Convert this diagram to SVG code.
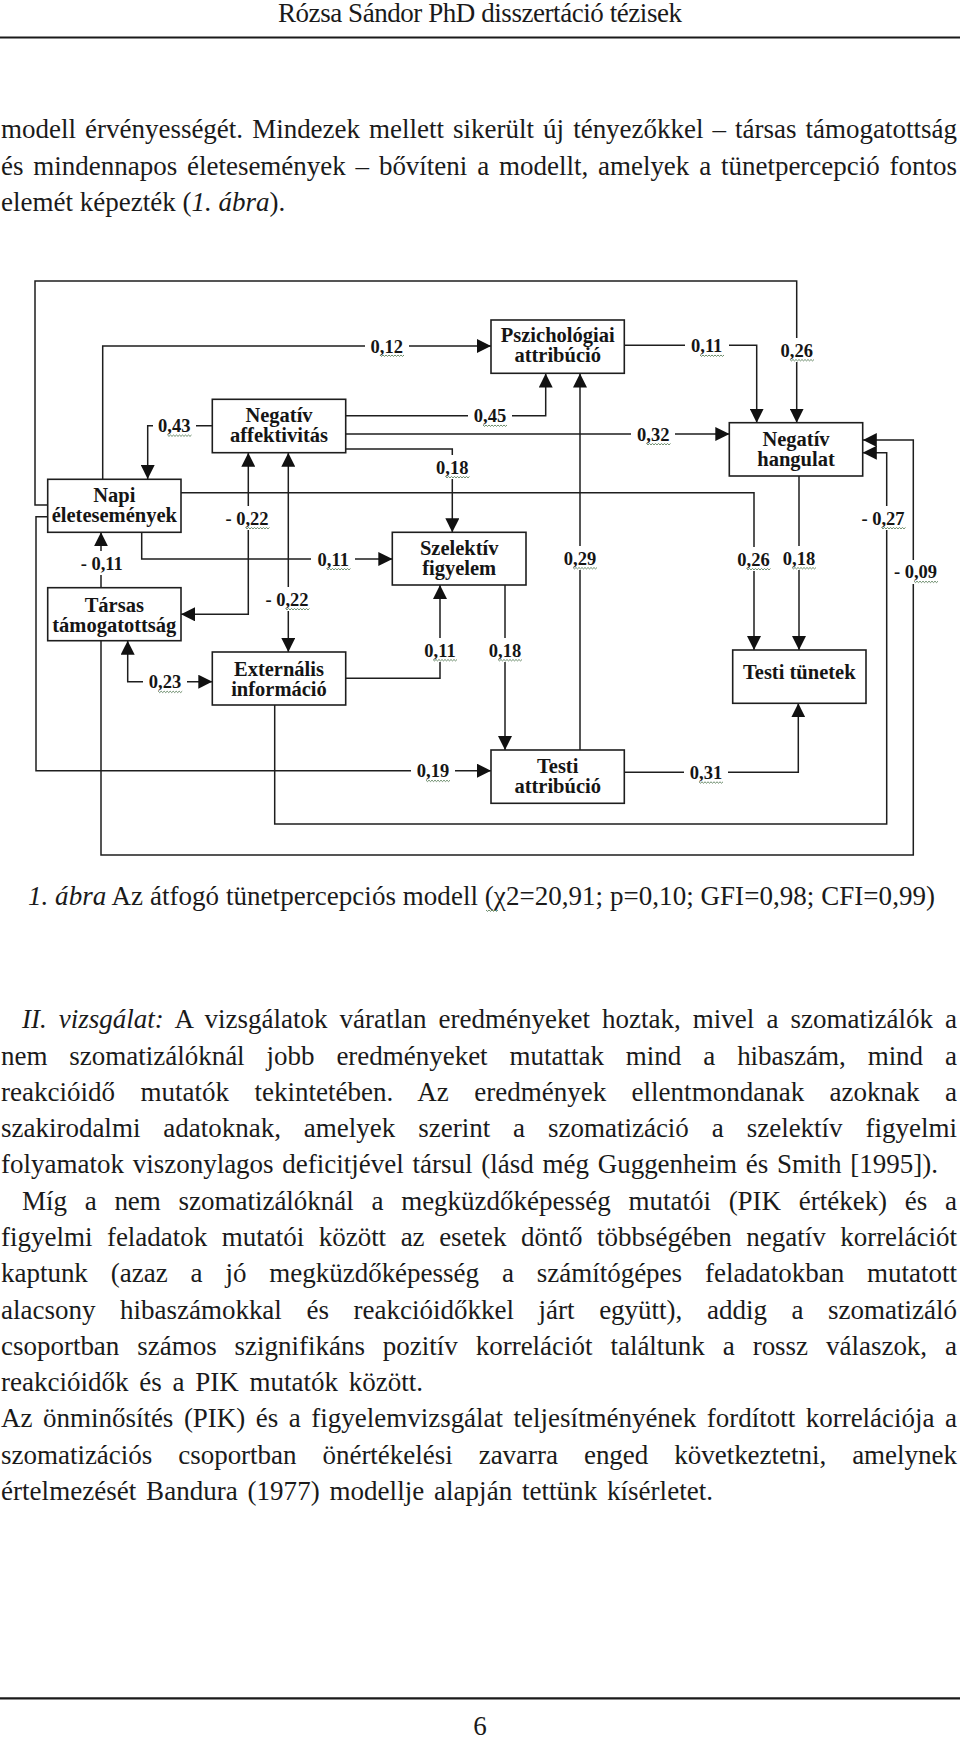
<svg xmlns="http://www.w3.org/2000/svg" xmlns:xlink="http://www.w3.org/1999/xlink" width="960" height="1738" viewBox="0 0 960 1738">
<defs>
<style>
.tx{font-family:"Liberation Serif",serif;font-size:27px;fill:#1a1a1a}
.it{font-style:italic}
.box{fill:#fff;stroke:#1e1e1e;stroke-width:1.6}
.nt{font-family:"Liberation Serif",serif;font-weight:bold;font-size:20.5px;fill:#151515;text-anchor:middle}
.c{fill:none;stroke:#1e1e1e;stroke-width:1.5}
.lb{font-family:"Liberation Serif",serif;font-weight:bold;font-size:18.5px;fill:#151515;text-anchor:middle}
.bg{fill:#fff}
.sqw{fill:none;stroke:#5b7f5b;stroke-width:0.9}
.rule{stroke:#1a1a1a;stroke-width:2.2}
</style>
<marker id="ah" viewBox="0 0 14 14" refX="14" refY="7" markerWidth="14" markerHeight="14" markerUnits="userSpaceOnUse" orient="auto-start-reverse">
<path d="M0,0 L14,7 L0,14 z" fill="#111"/>
</marker>
<path id="sq" class="sqw" d="M0,0 l1.5,1.4 l1.5,-1.4 l1.5,1.4 l1.5,-1.4 l1.5,1.4 l1.5,-1.4 l1.5,1.4 l1.5,-1.4 l1.5,1.4 l1.5,-1.4 l1.5,1.4 l1.5,-1.4 l1.5,1.4 l1.5,-1.4 l1.5,1.4 l1.5,-1.4"/>
<path id="sqs" class="sqw" d="M0,0 l1.5,1.4 l1.5,-1.4 l1.5,1.4 l1.5,-1.4 l1.5,1.4 l1.5,-1.4 l1.5,1.4 l1.5,-1.4"/>
</defs>
<rect width="960" height="1738" fill="#fff"/>

<!-- header -->
<text class="tx" x="278" y="22" font-size="26" textLength="404" lengthAdjust="spacing">Rózsa Sándor PhD disszertáció tézisek</text>
<line class="rule" x1="0" y1="37.5" x2="960" y2="37.5"/>

<!-- paragraph 1 -->
<text class="tx" x="1" y="138" textLength="956" lengthAdjust="spacing" style="word-spacing:2.3px">modell érvényességét. Mindezek mellett sikerült új tényezőkkel – társas támogatottság</text>
<text class="tx" x="1" y="174.5" textLength="956" lengthAdjust="spacing" style="word-spacing:3.1px">és mindennapos életesemények – bővíteni a modellt, amelyek a tünetpercepció fontos</text>
<text class="tx" x="1" y="211">elemét képezték (<tspan class="it">1. ábra</tspan>).</text>

<!-- diagram connectors -->
<g id="connectors">
<path class="c" marker-end="url(#ah)" d="M102.7,479 V346 H491"/>
<path class="c" marker-end="url(#ah)" d="M212,425.7 H147.7 V479"/>
<path class="c" marker-end="url(#ah)" d="M346,415.7 H545.7 V373.5"/>
<path class="c" marker-end="url(#ah)" d="M346,434 H729.3"/>
<path class="c" marker-end="url(#ah)" d="M346,449 H452.3 V532.3"/>
<path class="c" marker-end="url(#ah)" d="M181,492.7 H754 V650"/>
<path class="c" marker-end="url(#ah)" d="M624.5,345.3 H756.7 V422.7"/>
<path class="c" marker-end="url(#ah)" d="M47.7,505 H35 V281 H796.7 V422.7"/>
<path class="c" marker-end="url(#ah)" d="M580,750 V373.5"/>
<path class="c" marker-end="url(#ah)" d="M799,476 V650"/>
<path class="c" marker-end="url(#ah)" d="M274.7,705 V824 H886.7 V452.7 H862.8"/>
<path class="c" marker-end="url(#ah)" d="M101,640.7 V855 H913.3 V440 H862.8"/>
<path class="c" marker-end="url(#ah)" d="M141.7,532.3 V559 H392.3"/>
<path class="c" marker-start="url(#ah)" marker-end="url(#ah)" d="M248.3,452.8 V614.3 H181"/>
<path class="c" marker-start="url(#ah)" marker-end="url(#ah)" d="M288.3,452.8 V652"/>
<path class="c" marker-start="url(#ah)" marker-end="url(#ah)" d="M127.7,640.7 V681.7 H212.3"/>
<path class="c" marker-end="url(#ah)" d="M101,587.7 V532.3"/>
<path class="c" marker-end="url(#ah)" d="M345.7,678.3 H440 V585"/>
<path class="c" marker-end="url(#ah)" d="M505,585 V750"/>
<path class="c" marker-end="url(#ah)" d="M47.7,516.7 H36 V770.7 H491"/>
<path class="c" marker-end="url(#ah)" d="M624.3,772.3 H798.3 V703.3"/>
</g>

<!-- connector labels -->
<g id="labels">
<rect class="bg" x="365" y="335" width="44" height="22"/><text class="lb" x="386.7" y="352.5">0,12</text><use href="#sq" x="380" y="355"/>
<rect class="bg" x="153" y="415" width="43" height="22"/><text class="lb" x="174.3" y="432.2">0,43</text><use href="#sq" x="167.5" y="435"/>
<rect class="bg" x="468" y="405" width="44" height="21"/><text class="lb" x="490" y="422.2">0,45</text><use href="#sq" x="483" y="425"/>
<rect class="bg" x="631" y="423" width="44" height="22"/><text class="lb" x="653.3" y="440.5">0,32</text><use href="#sq" x="646.5" y="443.5"/>
<rect class="bg" x="431" y="455" width="43" height="24"/><text class="lb" x="452.3" y="473.5">0,18</text><use href="#sq" x="445.5" y="476.5"/>
<rect class="bg" x="732" y="547" width="43" height="24"/><text class="lb" x="753.5" y="565.5">0,26</text><use href="#sq" x="746.5" y="568.5"/>
<rect class="bg" x="685" y="334" width="44" height="22"/><text class="lb" x="706.7" y="351.8">0,11</text><use href="#sq" x="700" y="355"/>
<rect class="bg" x="775" y="338" width="43" height="24"/><text class="lb" x="796.7" y="356.5">0,26</text><use href="#sq" x="790" y="359.5"/>
<rect class="bg" x="559" y="546" width="43" height="24"/><text class="lb" x="580" y="564.5">0,29</text><use href="#sq" x="573" y="567.5"/>
<rect class="bg" x="778" y="546" width="43" height="24"/><text class="lb" x="799" y="564.5">0,18</text><use href="#sq" x="792" y="567.5"/>
<rect class="bg" x="857" y="506" width="54" height="24"/><text class="lb" x="883" y="524.5">- 0,27</text><use href="#sq" x="881.5" y="527.5"/>
<rect class="bg" x="889" y="560" width="53" height="24"/><text class="lb" x="915.5" y="578.2">- 0,09</text><use href="#sq" x="914" y="581.2"/>
<rect class="bg" x="311" y="548" width="44" height="22"/><text class="lb" x="333.3" y="565.5">0,11</text><use href="#sq" x="326.5" y="568.5"/>
<rect class="bg" x="220" y="506" width="54" height="24"/><text class="lb" x="247" y="524.5">- 0,22</text><use href="#sq" x="245.5" y="527.5"/>
<rect class="bg" x="260" y="587" width="54" height="24"/><text class="lb" x="287" y="605.5">- 0,22</text><use href="#sq" x="285.5" y="608.5"/>
<rect class="bg" x="143" y="671" width="44" height="22"/><text class="lb" x="165" y="688.2">0,23</text><use href="#sq" x="158.2" y="691.2"/>
<rect class="bg" x="75" y="551" width="53" height="24"/><text class="lb" x="101.7" y="569.5">- 0,11</text>
<rect class="bg" x="418" y="638" width="44" height="24"/><text class="lb" x="440" y="656.5">0,11</text><use href="#sq" x="433" y="659.5"/>
<rect class="bg" x="483" y="638" width="44" height="24"/><text class="lb" x="505" y="656.5">0,18</text><use href="#sq" x="498" y="659.5"/>
<rect class="bg" x="411" y="760" width="44" height="22"/><text class="lb" x="433" y="777.2">0,19</text><use href="#sq" x="426" y="780.2"/>
<rect class="bg" x="684" y="761" width="44" height="22"/><text class="lb" x="706" y="778.8">0,31</text><use href="#sq" x="699" y="781.8"/>
</g>

<!-- nodes -->
<g id="node-napi">
<rect class="box" x="47.7" y="479.3" width="133.3" height="53"/>
<text class="nt" x="114.3" y="502">Napi</text>
<text class="nt" x="114.3" y="522">életesemények</text>
</g>
<g id="node-negativ-affektivitas">
<rect class="box" x="212.3" y="399.3" width="133.4" height="53.4"/>
<text class="nt" x="279" y="422">Negatív</text>
<text class="nt" x="279" y="442">affektivitás</text>
</g>
<g id="node-pszichologiai-attribucio">
<rect class="box" x="491" y="320" width="133.3" height="53.3"/>
<text class="nt" x="557.7" y="342">Pszichológiai</text>
<text class="nt" x="557.7" y="362">attribúció</text>
</g>
<g id="node-negativ-hangulat">
<rect class="box" x="729.3" y="422.7" width="133.4" height="53.3"/>
<text class="nt" x="796" y="446">Negatív</text>
<text class="nt" x="796" y="466">hangulat</text>
</g>
<g id="node-szelektiv-figyelem">
<rect class="box" x="392.3" y="532.3" width="133.7" height="52.7"/>
<text class="nt" x="459.2" y="555">Szelektív</text>
<text class="nt" x="459.2" y="575">figyelem</text>
</g>
<g id="node-tarsas-tamogatottsag">
<rect class="box" x="47.7" y="587.7" width="133.3" height="53"/>
<text class="nt" x="114.3" y="611.5">Társas</text>
<text class="nt" x="114.3" y="631.5">támogatottság</text>
</g>
<g id="node-externalis-informacio">
<rect class="box" x="212.3" y="652" width="133.4" height="53"/>
<text class="nt" x="279" y="676">Externális</text>
<text class="nt" x="279" y="696">információ</text>
</g>
<g id="node-testi-tunetek">
<rect class="box" x="732.7" y="650" width="133.3" height="53.3"/>
<text class="nt" x="799.3" y="679">Testi tünetek</text>
</g>
<g id="node-testi-attribucio">
<rect class="box" x="491" y="750" width="133.3" height="53.3"/>
<text class="nt" x="557.7" y="772.5">Testi</text>
<text class="nt" x="557.7" y="792.5">attribúció</text>
</g>

<!-- caption -->
<text class="tx" x="28" y="905" textLength="907" lengthAdjust="spacing"><tspan class="it">1. ábra</tspan>  Az átfogó tünetpercepciós modell (χ2=20,91; p=0,10; GFI=0,98; CFI=0,99)</text>
<use href="#sqs" x="486" y="910"/>

<!-- paragraph 2 -->
<text class="tx" x="22" y="1028" textLength="935" lengthAdjust="spacing" style="word-spacing:5.3px"><tspan class="it">II. vizsgálat:</tspan> A vizsgálatok váratlan eredményeket hoztak, mivel a szomatizálók a</text>
<text class="tx" x="1" y="1064.5" textLength="956" lengthAdjust="spacing" style="word-spacing:15.2px">nem szomatizálóknál jobb eredményeket mutattak mind a hibaszám, mind a</text>
<text class="tx" x="1" y="1100.8" textLength="956" lengthAdjust="spacing" style="word-spacing:18.7px">reakcióidő mutatók tekintetében. Az eredmények ellentmondanak azoknak a</text>
<text class="tx" x="1" y="1137" textLength="956" lengthAdjust="spacing" style="word-spacing:16.2px">szakirodalmi adatoknak, amelyek szerint a szomatizáció a szelektív figyelmi</text>
<text class="tx" x="1" y="1173.3" textLength="937" lengthAdjust="spacing" style="word-spacing:2px">folyamatok viszonylagos deficitjével társul (lásd még Guggenheim és Smith [1995]).</text>
<text class="tx" x="22" y="1209.6" textLength="935" lengthAdjust="spacing" style="word-spacing:11px">Míg a nem szomatizálóknál a megküzdőképesség mutatói (PIK értékek) és a</text>
<text class="tx" x="1" y="1245.9" textLength="956" lengthAdjust="spacing" style="word-spacing:7.8px">figyelmi feladatok mutatói között az esetek döntő többségében negatív korrelációt</text>
<text class="tx" x="1" y="1282.2" textLength="956" lengthAdjust="spacing" style="word-spacing:16.2px">kaptunk (azaz a jó megküzdőképesség a számítógépes feladatokban mutatott</text>
<text class="tx" x="1" y="1318.5" textLength="956" lengthAdjust="spacing" style="word-spacing:17.9px">alacsony hibaszámokkal és reakcióidőkkel járt együtt), addig a szomatizáló</text>
<text class="tx" x="1" y="1354.8" textLength="956" lengthAdjust="spacing" style="word-spacing:11.2px">csoportban számos szignifikáns pozitív korrelációt találtunk a rossz válaszok, a</text>
<text class="tx" x="1" y="1391.1" textLength="422" lengthAdjust="spacing" style="word-spacing:4px">reakcióidők és a PIK mutatók között.</text>
<text class="tx" x="1" y="1427.4" textLength="956" lengthAdjust="spacing" style="word-spacing:3.8px">Az önminősítés (PIK) és a figyelemvizsgálat teljesítményének fordított korrelációja a</text>
<text class="tx" x="1" y="1463.7" textLength="956" lengthAdjust="spacing" style="word-spacing:19.2px">szomatizációs csoportban önértékelési zavarra enged következtetni, amelynek</text>
<text class="tx" x="1" y="1500" textLength="712" lengthAdjust="spacing" style="word-spacing:3px">értelmezését Bandura (1977) modellje alapján tettünk kísérletet.</text>

<!-- footer -->
<line class="rule" x1="0" y1="1698.3" x2="960" y2="1698.3"/>
<text class="tx" x="480" y="1735" text-anchor="middle">6</text>
</svg>
